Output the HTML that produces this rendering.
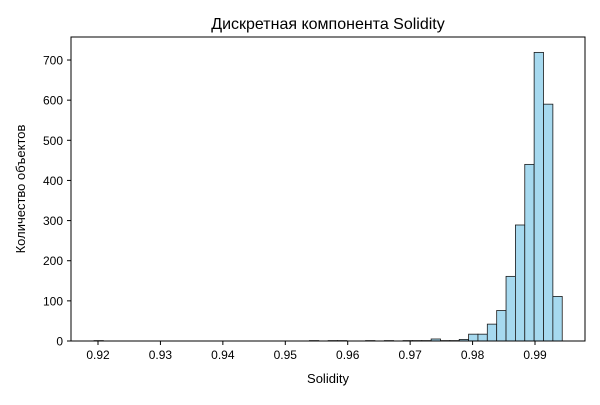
<!DOCTYPE html>
<html><head><meta charset="utf-8"><style>body{margin:0;background:#fff}svg{font-family:"Liberation Sans","DejaVu Sans",sans-serif}</style></head>
<body>
<svg id="chart" width="600" height="400">
<rect width="600" height="400" fill="#fff"/>
<text x="328" y="29" font-size="16" text-anchor="middle">Дискретная компонента Solidity</text>
<text x="328" y="383" font-size="13" text-anchor="middle">Solidity</text>
<text transform="translate(25,189) rotate(-90)" font-size="13" text-anchor="middle">Количество объектов</text>
<g id="bars"></g><g id="axes"></g>
<rect x="71" y="37" width="514" height="304" fill="none" stroke="#000" stroke-width="1"/>
</svg>
<script>
const binStart = 0.91936;
const binWidth = 0.0015;
const counts = [1,0,0,0,0,0,0,0,0,0,0,0,0,0,0,0,0,0,0,0,0,0,0,1,0,1,1,0,0,1,0,1,0,1,1,1,5,1,1,4,17,17,42,76,161,289,440,719,590,111];
const xTicks = [0.92,0.93,0.94,0.95,0.96,0.97,0.98,0.99];
const yTicks = [0,100,200,300,400,500,600,700];
const NS="http://www.w3.org/2000/svg";
const xs=v=>98+(v-0.92)*6243;
const ys=v=>341-v*0.4014;
const bars=document.getElementById('bars'), axes=document.getElementById('axes');
counts.forEach((c,i)=>{
  if(c<=0)return;
  const r=document.createElementNS(NS,'rect');
  const x0=xs(binStart+i*binWidth), x1=xs(binStart+(i+1)*binWidth);
  r.setAttribute('x',x0);r.setAttribute('width',x1-x0);
  r.setAttribute('y',ys(c));r.setAttribute('height',341-ys(c));
  r.setAttribute('fill','#a6d9ef');r.setAttribute('stroke','#1a1a1a');r.setAttribute('stroke-width','0.8');
  
  
  bars.appendChild(r);
});
xTicks.forEach(t=>{
  const x=xs(t);
  const l=document.createElementNS(NS,'line');
  l.setAttribute('x1',x);l.setAttribute('x2',x);l.setAttribute('y1',341);l.setAttribute('y2',345);l.setAttribute('stroke','#000');
  
  
  axes.appendChild(l);
  const tx=document.createElementNS(NS,'text');
  tx.setAttribute('x',x);tx.setAttribute('y',359);tx.setAttribute('font-size','12');tx.setAttribute('text-anchor','middle');
  tx.textContent=t.toFixed(2);
  
  
  axes.appendChild(tx);
});
yTicks.forEach(t=>{
  const y=ys(t);
  const l=document.createElementNS(NS,'line');
  l.setAttribute('x1',67);l.setAttribute('x2',71);l.setAttribute('y1',y);l.setAttribute('y2',y);l.setAttribute('stroke','#000');
  
  
  axes.appendChild(l);
  const tx=document.createElementNS(NS,'text');
  tx.setAttribute('x',63);tx.setAttribute('y',y+4.5);tx.setAttribute('font-size','12');tx.setAttribute('text-anchor','end');
  tx.textContent=t;
  
  
  axes.appendChild(tx);
});
</script>
</body></html>
